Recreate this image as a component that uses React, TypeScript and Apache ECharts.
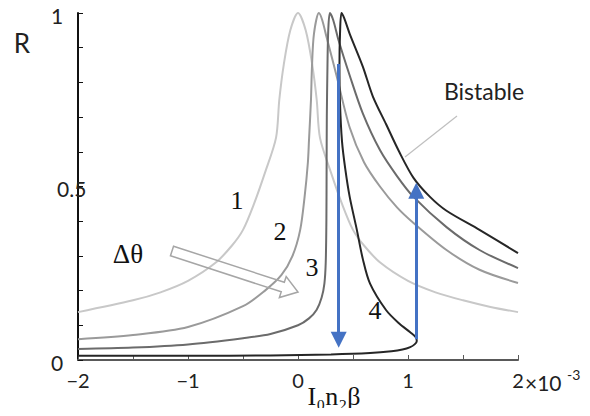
import React, { useEffect, useRef } from "react";
import * as echarts from "echarts";

// Curve 1: light gray, resonance at 0
const curve1: [number, number][] = [
  [-2.0, 0.138], [-1.5, 0.172], [-1.25, 0.195], [-1.0, 0.228], [-0.75, 0.28],
  [-0.6, 0.33], [-0.5, 0.375], [-0.4, 0.45], [-0.3, 0.54], [-0.2, 0.64],
  [-0.17, 0.75], [-0.13, 0.85], [-0.07, 0.95], [0, 1.0], [0.07, 0.95],
  [0.13, 0.85], [0.17, 0.75], [0.2, 0.64], [0.3, 0.54], [0.4, 0.45],
  [0.5, 0.375], [0.6, 0.33], [0.75, 0.28], [1.0, 0.228], [1.25, 0.195],
  [1.5, 0.172], [1.75, 0.153], [2.0, 0.138],
];

// Curve 2: medium gray
const curve2: [number, number][] = [
  [-2.0, 0.06], [-1.5, 0.072], [-1.0, 0.095], [-0.5, 0.155], [-0.3, 0.2],
  [-0.15, 0.245], [-0.05, 0.3], [0.02, 0.375], [0.06, 0.47], [0.09, 0.57],
  [0.1, 0.634], [0.118, 0.75], [0.127, 0.845], [0.145, 0.94], [0.19, 1.0],
  [0.22, 0.98], [0.26, 0.93], [0.35, 0.82], [0.47, 0.67], [0.6, 0.57],
  [0.745, 0.5], [0.9, 0.44], [1.05, 0.395], [1.35, 0.317], [1.65, 0.26],
  [2.0, 0.222],
];

// Curve 3: dark gray
const curve3: [number, number][] = [
  [-2.0, 0.032], [-1.5, 0.036], [-1.0, 0.045], [-0.5, 0.063], [-0.25, 0.075],
  [0, 0.1], [0.1, 0.12], [0.17, 0.145], [0.215, 0.18], [0.24, 0.22],
  [0.252, 0.28], [0.258, 0.4], [0.26, 0.55], [0.262, 0.7], [0.268, 0.85],
  [0.275, 0.95], [0.29, 1.0], [0.32, 0.98], [0.37, 0.92], [0.47, 0.82],
  [0.59, 0.71], [0.745, 0.605], [0.9, 0.53], [1.05, 0.47], [1.35, 0.383],
  [1.65, 0.317], [2.0, 0.265],
];

// Curve 4: black, bistable (folded) response
const curve4: [number, number][] = [
  [-2.0, 0.012], [-1.0, 0.012], [-0.25, 0.013], [0.3, 0.016], [0.655, 0.02],
  [0.85, 0.025], [0.95, 0.03], [1.02, 0.037], [1.06, 0.045], [1.08, 0.055],
  [1.07, 0.066], [1.02, 0.08], [0.92, 0.105], [0.8, 0.144], [0.655, 0.22],
  [0.59, 0.29], [0.535, 0.375], [0.47, 0.47], [0.43, 0.55], [0.4, 0.63],
  [0.382, 0.74], [0.377, 0.85], [0.382, 0.94], [0.395, 1.0], [0.42, 0.985],
  [0.47, 0.94], [0.59, 0.845], [0.68, 0.76], [0.8, 0.68], [0.92, 0.6],
  [1.05, 0.525], [1.2, 0.47], [1.35, 0.43], [1.65, 0.375], [2.0, 0.308],
];

// Switching arrows (start, end)
const downArrow: [number, number][] = [[0.37, 0.853], [0.37, 0.058]];
const upArrow: [number, number][] = [[1.075, 0.06], [1.075, 0.488]];

const curveColors = ["#c8c8c8", "#9a9a9a", "#6b6b6b", "#262626"];
const curveLabels = ["1", "2", "3", "4"];

function arrowPoints(sx: number, sy: number, ex: number, ey: number) {
  const L = Math.hypot(ex - sx, ey - sy);
  const ux = (ex - sx) / L;
  const uy = (ey - sy) / L;
  const px = -uy;
  const py = ux;
  const local = [
    [0, -5], [L - 16, -5], [L - 16, -11], [L, 0], [L - 16, 11], [L - 16, 5], [0, 5],
  ];
  return local.map(([u, v]) => [sx + u * ux + v * px, sy + u * uy + v * py]);
}

export default function App() {
  const ref = useRef<HTMLDivElement>(null);

  useEffect(() => {
    if (!ref.current) return;
    const chart = echarts.init(ref.current, null, { renderer: "svg" });
    const sans = "Lato";
    const serif = "Liberation Serif";

    const option: any = {
      animation: false,
      backgroundColor: "#ffffff",
      grid: { left: 78, right: 72, top: 13, bottom: 56 },
      xAxis: {
        type: "value",
        min: -2,
        max: 2,
        interval: 0.5,
        axisLine: { show: true, onZero: false, lineStyle: { color: "#595959", width: 2 } },
        axisTick: { show: true, inside: true, length: 5, lineStyle: { color: "#595959", width: 1 } },
        splitLine: { show: false },
        axisLabel: {
          fontFamily: sans,
          fontSize: 20,
          color: "#222",
          margin: 10,
          formatter: (v: number) => {
            if (Math.abs(v - Math.round(v)) > 1e-6) return "";
            const r = Math.round(v);
            return r < 0 ? "\u2212" + Math.abs(r) : String(r);
          },
        },
      },
      yAxis: {
        type: "value",
        min: 0,
        max: 1,
        interval: 0.1,
        axisLine: { show: true, onZero: false, lineStyle: { color: "#111", width: 2 } },
        axisTick: { show: true, inside: true, length: 5, lineStyle: { color: "#111", width: 1 } },
        splitLine: { show: false },
        axisLabel: {
          fontFamily: sans,
          fontSize: 21,
          color: "#222",
          margin: 27,
          align: "left",
          padding: [4, 0, 0, 0],
          formatter: (v: number) => {
            if (Math.abs(v) < 1e-6) return "0";
            if (Math.abs(v - 1) < 1e-6) return "1";
            if (Math.abs(v - 0.5) < 1e-6) return "{h|0.5}";
            return "";
          },
          rich: { h: { fontFamily: sans, fontSize: 21, color: "#222", padding: [0, 0, 0, 6] } },
        },
      },
      series: [
        ...[curve1, curve2, curve3, curve4].map((d, i) => ({
          type: "line",
          name: curveLabels[i],
          data: d,
          showSymbol: false,
          symbol: "none",
          smooth: 0.3,
          lineStyle: { color: curveColors[i], width: 2 },
          z: 2 + i,
          silent: true,
        })),
        {
          type: "lines",
          coordinateSystem: "cartesian2d",
          data: [{ coords: downArrow }, { coords: upArrow }],
          lineStyle: { color: "#4472C4", width: 3, opacity: 1 },
          symbol: ["none", "triangle"],
          symbolSize: [14, 16],
          z: 10,
          silent: true,
        },
      ],
      graphic: [
        { type: "text", x: 22, y: 43, style: { text: "R", fontFamily: sans, fontSize: 26, fill: "#222", align: "center", verticalAlign: "middle" } },
        { type: "text", x: 237, y: 200, style: { text: "1", fontFamily: serif, fontSize: 26, fill: "#111", align: "center", verticalAlign: "middle" } },
        { type: "text", x: 280, y: 231, style: { text: "2", fontFamily: serif, fontSize: 26, fill: "#111", align: "center", verticalAlign: "middle" } },
        { type: "text", x: 312, y: 267, style: { text: "3", fontFamily: serif, fontSize: 26, fill: "#111", align: "center", verticalAlign: "middle" } },
        { type: "text", x: 375, y: 310, style: { text: "4", fontFamily: serif, fontSize: 26, fill: "#111", align: "center", verticalAlign: "middle" } },
        { type: "text", x: 128, y: 254, style: { text: "\u0394\u03b8", fontFamily: serif, fontSize: 27, fill: "#111", align: "center", verticalAlign: "middle" } },
        {
          type: "polygon",
          shape: { points: arrowPoints(172, 251, 298, 292) },
          style: { fill: "none", stroke: "#a6a6a6", lineWidth: 1.5 },
          z: 20,
        },
        { type: "text", x: 484, y: 91, style: { text: "Bistable", fontFamily: sans, fontSize: 23, fill: "#222", align: "center", verticalAlign: "middle" } },
        { type: "line", shape: { x1: 405, y1: 157, x2: 457, y2: 116 }, style: { stroke: "#bfbfbf", lineWidth: 1.2 }, z: 20 },
        { type: "text", x: 525, y: 382, style: { text: "\u00d710", fontFamily: sans, fontSize: 21, fill: "#222", align: "left", verticalAlign: "middle" } },
        { type: "text", x: 567, y: 374, style: { text: "-3", fontFamily: sans, fontSize: 14, fill: "#222", align: "left", verticalAlign: "middle" } },
        { type: "text", x: 334, y: 396, style: { text: "I\u2080n\u2082\u03b2", fontFamily: serif, fontSize: 26, fill: "#111", align: "center", verticalAlign: "middle" } },
      ],
    };

    chart.setOption(option);
    return () => chart.dispose();
  }, []);

  return <div ref={ref} style={{ width: 590, height: 416, margin: -8 }} />;
}
